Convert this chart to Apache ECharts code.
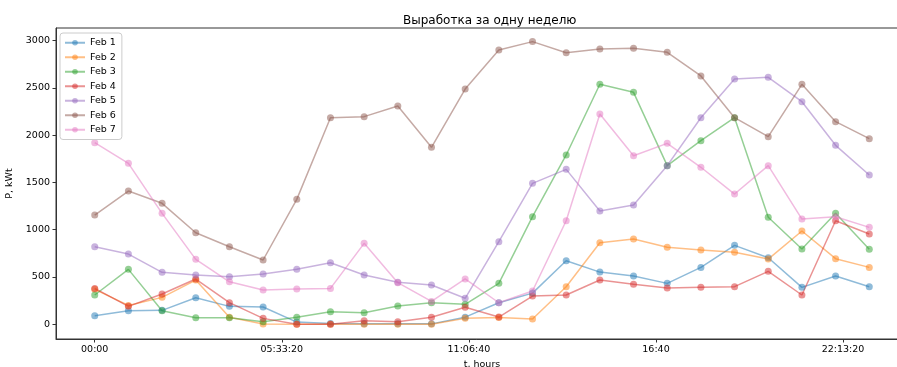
<!DOCTYPE html>
<html>
<head>
<meta charset="utf-8">
<script src="https://cdn.jsdelivr.net/npm/echarts@6/dist/echarts.min.js"></script>
<style>
  html, body { margin: 0; padding: 0; background: #fff; }
  #chart { width: 897px; height: 367px; }
</style>
</head>
<body>
<div id="chart"></div>
<script>
// Hour of day for each reading
const hours = [0, 1, 2, 3, 4, 5, 6, 7, 8, 9, 10, 11, 12, 13, 14, 15, 16, 17, 18, 19, 20, 21, 22, 23];

// Hourly output per day, kWt
const feb1 = [91, 144, 148, 281, 190, 183, 24, 10, 5, 5, 5, 76, 228, 330, 672, 552, 511, 433, 602, 835, 704, 391, 511, 398];
const feb2 = [370, 200, 285, 468, 74, 3, 0, 0, 0, 0, 0, 63, 72, 56, 398, 863, 902, 814, 785, 761, 690, 986, 694, 602];
const feb3 = [310, 581, 144, 70, 70, 28, 74, 133, 123, 193, 228, 211, 433, 1138, 1790, 2537, 2452, 1677, 1941, 2184, 1131, 796, 1173, 793];
const feb4 = [380, 190, 320, 479, 229, 63, 0, 0, 38, 28, 74, 180, 77, 299, 310, 468, 423, 384, 391, 398, 560, 310, 1095, 955];
const feb5 = [820, 743, 550, 521, 503, 532, 583, 651, 521, 444, 415, 275, 873, 1490, 1638, 1198, 1261, 1677, 2184, 2593, 2611, 2353, 1892, 1578];
const feb6 = [1155, 1409, 1279, 968, 820, 680, 1321, 2184, 2195, 2308, 1871, 2487, 2900, 2988, 2871, 2910, 2917, 2875, 2625, 2184, 1983, 2537, 2142, 1962];
const feb7 = [1920, 1702, 1173, 687, 450, 363, 373, 380, 856, 440, 242, 480, 228, 352, 1095, 2223, 1782, 1913, 1660, 1377, 1677, 1113, 1137, 1025];

const seriesNames = ['Feb 1', 'Feb 2', 'Feb 3', 'Feb 4', 'Feb 5', 'Feb 6', 'Feb 7'];
const seriesValues = [feb1, feb2, feb3, feb4, feb5, feb6, feb7];

// Axis ticks: time in seconds and their labels; power ticks
const xTickSeconds = [0, 20000, 40000, 60000, 80000];
const xTickLabels = ['00:00', '05:33:20', '11:06:40', '16:40', '22:13:20'];
const yTicks = [0, 500, 1000, 1500, 2000, 2500, 3000];

const palette = ['#1f77b4', '#ff7f0e', '#2ca02c', '#d62728', '#9467bd', '#8c564b', '#e377c2'];
const FONT = 'DejaVu Sans';

const chart = echarts.init(document.getElementById('chart'), null, { renderer: 'canvas' });

const series = seriesNames.map((name, i) => ({
  name: name,
  type: 'line',
  data: hours.map((h, k) => [h * 3600, seriesValues[i][k]]),
  symbol: 'circle',
  symbolSize: 7,
  showAllSymbol: true,
  animation: false,
  lineStyle: { color: palette[i], width: 1.5, opacity: 0.5 },
  itemStyle: { color: palette[i], opacity: 0.5, borderWidth: 0 },
  emphasis: { disabled: true }
}));

chart.setOption({
  animation: false,
  title: {
    text: 'Выработка за одну неделю',
    left: 398,
    top: 10,
    textStyle: { fontFamily: FONT, fontSize: 12, fontWeight: 'normal', color: '#000' }
  },
  legend: {
    data: seriesNames,
    orient: 'vertical',
    left: 60,
    top: 33,
    padding: [4, 6, 4, 4],
    itemWidth: 20,
    itemHeight: 7,
    itemGap: 3,
    backgroundColor: 'rgba(255,255,255,0.8)',
    borderColor: '#cccccc',
    borderWidth: 1,
    borderRadius: 3,
    textStyle: { fontFamily: FONT, fontSize: 9.5, color: '#000', lineHeight: 11.5 }
  },
  grid: {
    left: 56,
    right: -11,
    top: 28,
    bottom: 28,
    show: true,
    borderColor: '#333',
    borderWidth: 1,
    containLabel: false,
    outerBoundsMode: 'none'
  },
  xAxis: {
    type: 'value',
    min: -4140,
    max: 86940,
    name: 't, hours',
    nameLocation: 'middle',
    nameGap: 18,
    nameTextStyle: { fontFamily: FONT, fontSize: 9.5, color: '#000' },
    axisLine: { show: true, onZero: false, lineStyle: { color: '#333', width: 1 } },
    axisTick: { show: true, length: 3.5, customValues: xTickSeconds, lineStyle: { color: '#333' } },
    axisLabel: {
      customValues: xTickSeconds,
      margin: 6,
      fontFamily: FONT,
      fontSize: 9.5,
      color: '#000',
      formatter: v => xTickLabels[xTickSeconds.indexOf(v)] || ''
    },
    splitLine: { show: false }
  },
  yAxis: {
    type: 'value',
    min: -155,
    max: 3132,
    name: 'P, kWt',
    nameLocation: 'middle',
    nameGap: 35,
    nameRotate: 90,
    nameTextStyle: { fontFamily: FONT, fontSize: 9.5, color: '#000' },
    axisLine: { show: true, onZero: false, lineStyle: { color: '#333', width: 1 } },
    axisTick: { show: true, length: 3.5, customValues: yTicks, lineStyle: { color: '#333' } },
    axisLabel: {
      customValues: yTicks,
      margin: 6,
      fontFamily: FONT,
      fontSize: 9.5,
      color: '#000',
      formatter: v => String(v)
    },
    splitLine: { show: false }
  },
  series: series
});
</script>
</body>
</html>
